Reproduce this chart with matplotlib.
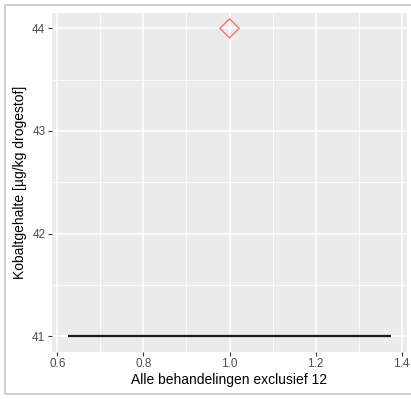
import matplotlib
matplotlib.use("Agg")
import matplotlib.pyplot as plt
from matplotlib.patches import Rectangle

plt.rcParams['font.family'] = ['Liberation Sans', 'DejaVu Sans']

# data
point_x = [1.0]
point_y = [44.0]
seg_x = [0.625, 1.375]
seg_y = [41.0, 41.0]
x_ticks = [0.6, 0.8, 1.0, 1.2, 1.4]
x_tick_labels = ["0.6", "0.8", "1.0", "1.2", "1.4"]
y_ticks = [41, 42, 43, 44]
y_tick_labels = ["41", "42", "43", "44"]
x_minor = [0.7, 0.9, 1.1, 1.3]
y_minor = [41.5, 42.5, 43.5]

fig = plt.figure(figsize=(4.11, 3.99), dpi=100)
W, H = 411, 399
# screenshot frame
fig.patches.append(Rectangle((5 / W, 1 - 394 / H), (420 - 5) / W, (394 - 5) / H,
                             transform=fig.transFigure, fill=False,
                             edgecolor='#C8C8C8', linewidth=1.2))

left, right, top, bottom = 52, 407, 13, 351.5
ax = fig.add_axes([left / W, 1 - bottom / H, (right - left) / W, (bottom - top) / H])
ax.set_facecolor('#EBEBEB')
for s in ax.spines.values():
    s.set_visible(False)

ax.set_xlim(0.5875, 1.4125)
ax.set_ylim(40.85, 44.15)
ax.set_xticks(x_ticks)
ax.set_xticklabels(x_tick_labels)
ax.set_yticks(y_ticks)
ax.set_yticklabels(y_tick_labels)
ax.set_xticks(x_minor, minor=True)
ax.set_yticks(y_minor, minor=True)
ax.grid(which='major', color='white', linewidth=1.1)
ax.grid(which='minor', color='white', linewidth=0.55)
ax.set_axisbelow(True)
ax.tick_params(which='major', length=2.8, width=0.8, color='#333333',
               labelcolor='#4D4D4D', labelsize=8.5, pad=2)
ax.tick_params(which='minor', length=0)

ax.plot(seg_x, seg_y, color='#1A1A1A', linewidth=1.6, solid_capstyle='butt')
ax.scatter(point_x, point_y, marker='D', s=95, facecolors='none',
           edgecolors='#F8766D', linewidths=1.0, clip_on=False, zorder=3)

ax.set_xlabel('Alle behandelingen exclusief 12', fontsize=10, color='black', labelpad=2)
ax.set_ylabel('Kobaltgehalte [µg/kg drogestof]', fontsize=10, color='black', labelpad=4)

fig.savefig('out.png', dpi=100)
